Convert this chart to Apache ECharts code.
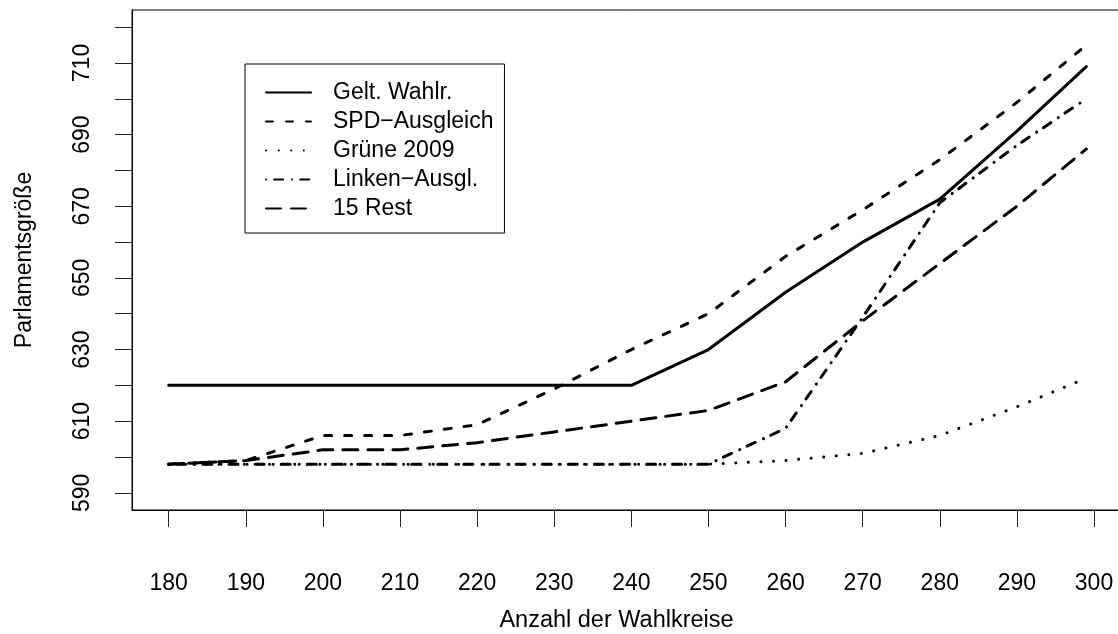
<!DOCTYPE html>
<html>
<head>
<meta charset="utf-8">
<script src="https://cdn.jsdelivr.net/npm/echarts@6/dist/echarts.min.js"></script>
<style>
html,body{margin:0;padding:0;background:#fff;}
#chart{width:1118px;height:634px;}
</style>
</head>
<body>
<div id="chart"></div>
<script>
var wahlkreise = [180,190,200,210,220,230,240,250,260,270,280,290,299];
var geltWahlr  = [620,620,620,620,620,620,620,630,646,660,672,691,709];
var spdAusgl   = [598,599,606,606,609,619,630,640,656,669,683,699,715];
var gruene2009 = [598,598,598,598,598,598,598,598,599,601,606,614,622];
var linkenAusgl= [598,598,598,598,598,598,598,598,608,639,671,687,700];
var rest15     = [598,599,602,602,604,607,610,613,621,638,654,670,686];
var xTicks = [180,190,200,210,220,230,240,250,260,270,280,290,300];
var yTicks = [590,600,610,620,630,640,650,660,670,680,690,700,710,720];
var yLabels = [590,610,630,650,670,690,710];
var seriesNames = ['Gelt. Wahlr.','SPD\u2212Ausgleich','Gr\u00fcne 2009','Linken\u2212Ausgl.','15 Rest'];
var seriesValues = [geltWahlr, spdAusgl, gruene2009, linkenAusgl, rest15];
var dashes = ['solid', [7,13], [0.1,12.5], [0.1,8,9,9], [15,10]];

var FONT = 'Liberation Sans, Arial, sans-serif';
function pairs(vals){ return wahlkreise.map(function(x,i){ return [x, vals[i]]; }); }

var chart = echarts.init(document.getElementById('chart'), null, {renderer:'canvas'});
chart.setOption({
  animation:false,
  backgroundColor:'#fff',
  textStyle:{fontFamily:FONT},
  grid:{left:132, top:10, right:-5, bottom:124, show:true, borderColor:'#000', borderWidth:1, containLabel:false, outerBoundsMode:'none'},
  legend:{
    left:245, top:64, orient:'vertical',
    backgroundColor:'#fff', borderColor:'#000', borderWidth:1,
    padding:[17,11,13,20],
    itemWidth:45, itemHeight:14, itemGap:6,
    itemStyle:{opacity:0},
    textStyle:{fontFamily:FONT, fontSize:23, lineHeight:23, color:'#000', padding:[0,0,0,17]},
    data: seriesNames
  },
  xAxis:{
    type:'value', min:175.24, max:303.76,
    name:'Anzahl der Wahlkreise', nameLocation:'middle', nameGap:99,
    nameTextStyle:{fontFamily:FONT, fontSize:23.5, color:'#000', lineHeight:23, padding:[0,22,0,0]},
    axisLine:{show:true, lineStyle:{color:'#000', width:1}},
    axisTick:{show:true, inside:false, length:17, customValues:xTicks, lineStyle:{color:'#222', width:1}},
    axisLabel:{show:true, margin:62, customValues:xTicks, fontFamily:FONT, fontSize:23, lineHeight:23, color:'#000'},
    splitLine:{show:false}
  },
  yAxis:{
    type:'value', min:585.2, max:724.8,
    name:'Parlamentsgr\u00f6\u00dfe', nameLocation:'middle', nameGap:96, nameRotate:90,
    nameTextStyle:{fontFamily:FONT, fontSize:23, color:'#000', lineHeight:23},
    axisLine:{show:true, lineStyle:{color:'#000', width:1}},
    axisTick:{show:true, inside:false, length:17, customValues:yTicks, lineStyle:{color:'#222', width:1}},
    axisLabel:{show:true, rotate:90, margin:38, customValues:yLabels, fontFamily:FONT, fontSize:23, lineHeight:23, color:'#000'},
    splitLine:{show:false}
  },
  series: seriesNames.map(function(n,i){
    return {
      name:n, type:'line', data:pairs(seriesValues[i]),
      symbol:'none', showSymbol:false, color:'#000',
      lineStyle:{color:'#000', width:3, type:dashes[i], cap:'round', join:'round'},
      emphasis:{disabled:true}
    };
  })
});
</script>
</body>
</html>
